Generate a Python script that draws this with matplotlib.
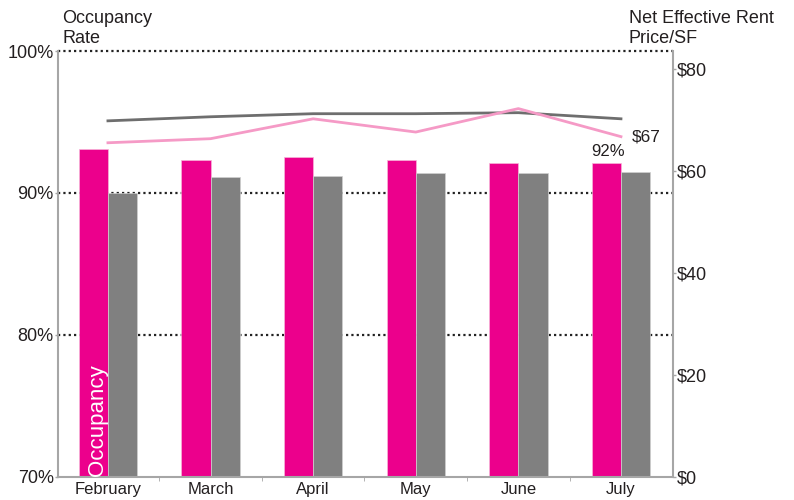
import numpy as np
import matplotlib
matplotlib.use("Agg")
import matplotlib.pyplot as plt
from matplotlib.ticker import FixedLocator

plt.rcParams['font.family'] = ['Liberation Sans', 'DejaVu Sans']

# ---- data ----
months = ["February", "March", "April", "May", "June", "July"]
occ_a = [93.1, 92.3, 92.5, 92.3, 92.1, 92.1]      # pink bars (%)
occ_b = [90.0, 91.1, 91.2, 91.4, 91.4, 91.5]      # gray bars (%)
rent_a = [65.5, 66.3, 70.2, 67.6, 72.2, 66.7]     # pink line ($/SF)
rent_b = [69.8, 70.6, 71.2, 71.2, 71.4, 70.2]     # gray line ($/SF)
occ_ticks = [70, 80, 90, 100]
rent_ticks = [0, 20, 40, 60, 80]

PINK = "#EC008C"
PINK_LINE = "#F59AC6"
GRAY = "#808080"
GRAY_LINE = "#6E6E6E"
SPINE = "#A6A6A6"
TXT = "#231F20"

fig = plt.figure(figsize=(7.94, 5.0), dpi=100)
ax = fig.add_axes([0.073, 0.0466, 0.7746, 0.8514])

x = np.arange(len(months))
w = 0.285
ax.bar(x - w / 2, occ_a, w, bottom=0, color=PINK, edgecolor="#F7B5D8", linewidth=0.5, zorder=2)
ax.bar(x + w / 2, occ_b, w, bottom=0, color=GRAY, edgecolor="#D0D0D0", linewidth=0.5, zorder=2)
ax.set_ylim(70, 100)
ax.set_xlim(-0.487, len(months) - 1 + 0.507)

# dotted reference lines
for v in [80, 90, 100]:
    ax.axhline(v, color="#222222", lw=1.6, ls=(0, (1, 1.4)), zorder=1, clip_on=False)

ax.set_yticks(occ_ticks)
ax.set_yticklabels([f"{v}%" for v in occ_ticks], fontsize=13, color=TXT)
ax.tick_params(axis="y", length=2, width=1, color=SPINE, pad=1)
ax.set_xticks(x)
ax.set_xticklabels(months, fontsize=12, color=TXT)
ax.tick_params(axis="x", length=0, pad=4)
ax.xaxis.set_minor_locator(FixedLocator(x[:-1] + 0.5))
ax.tick_params(axis="x", which="minor", length=3, color=SPINE)

for s in ["left", "bottom"]:
    ax.spines[s].set_color(SPINE)
    ax.spines[s].set_linewidth(1.5)
ax.spines["top"].set_visible(False)
ax.spines["right"].set_visible(False)

# rent lines on right axis
ax2 = ax.twinx()
ax2.plot(x, rent_b, color=GRAY_LINE, lw=2)
ax2.plot(x, rent_a, color=PINK_LINE, lw=2)
ax2.set_ylim(0, 83.5)
ax2.set_yticks(rent_ticks)
ax2.set_yticklabels([f"${v}" for v in rent_ticks], fontsize=13, color=TXT)
ax2.tick_params(axis="y", length=2, width=1, color=SPINE, pad=1)
ax2.spines["right"].set_color(SPINE)
ax2.spines["right"].set_linewidth(1.5)
for s in ["left", "top", "bottom"]:
    ax2.spines[s].set_visible(False)

# labels on last points
ax.annotate(f"{occ_a[-1]:.0f}%", (x[-1] - w / 2, occ_a[-1]), xytext=(1, 5),
            textcoords="offset points", ha="center", va="baseline", fontsize=12, color=TXT)
ax2.annotate(f"${rent_a[-1]:.0f}", (x[-1], rent_a[-1]), xytext=(8, 0),
             textcoords="offset points", ha="left", va="center", fontsize=12.5, color=TXT)

# series label inside first bar
ax.text(x[0] - w / 2 + 0.04, 70.05, "Occupancy", rotation=90, color="white",
        fontsize=16, ha="center", va="bottom", zorder=3)

# axis titles
fig.text(62 / 794, 1 - 22.7 / 500, "Occupancy", fontsize=13, color=TXT, va="baseline")
fig.text(62 / 794, 1 - 42.7 / 500, "Rate", fontsize=13, color=TXT, va="baseline")
fig.text(629 / 794, 1 - 22.7 / 500, "Net Effective Rent", fontsize=13, color=TXT, va="baseline")
fig.text(629 / 794, 1 - 42.7 / 500, "Price/SF", fontsize=13, color=TXT, va="baseline")

fig.savefig("out.png", dpi=100)
